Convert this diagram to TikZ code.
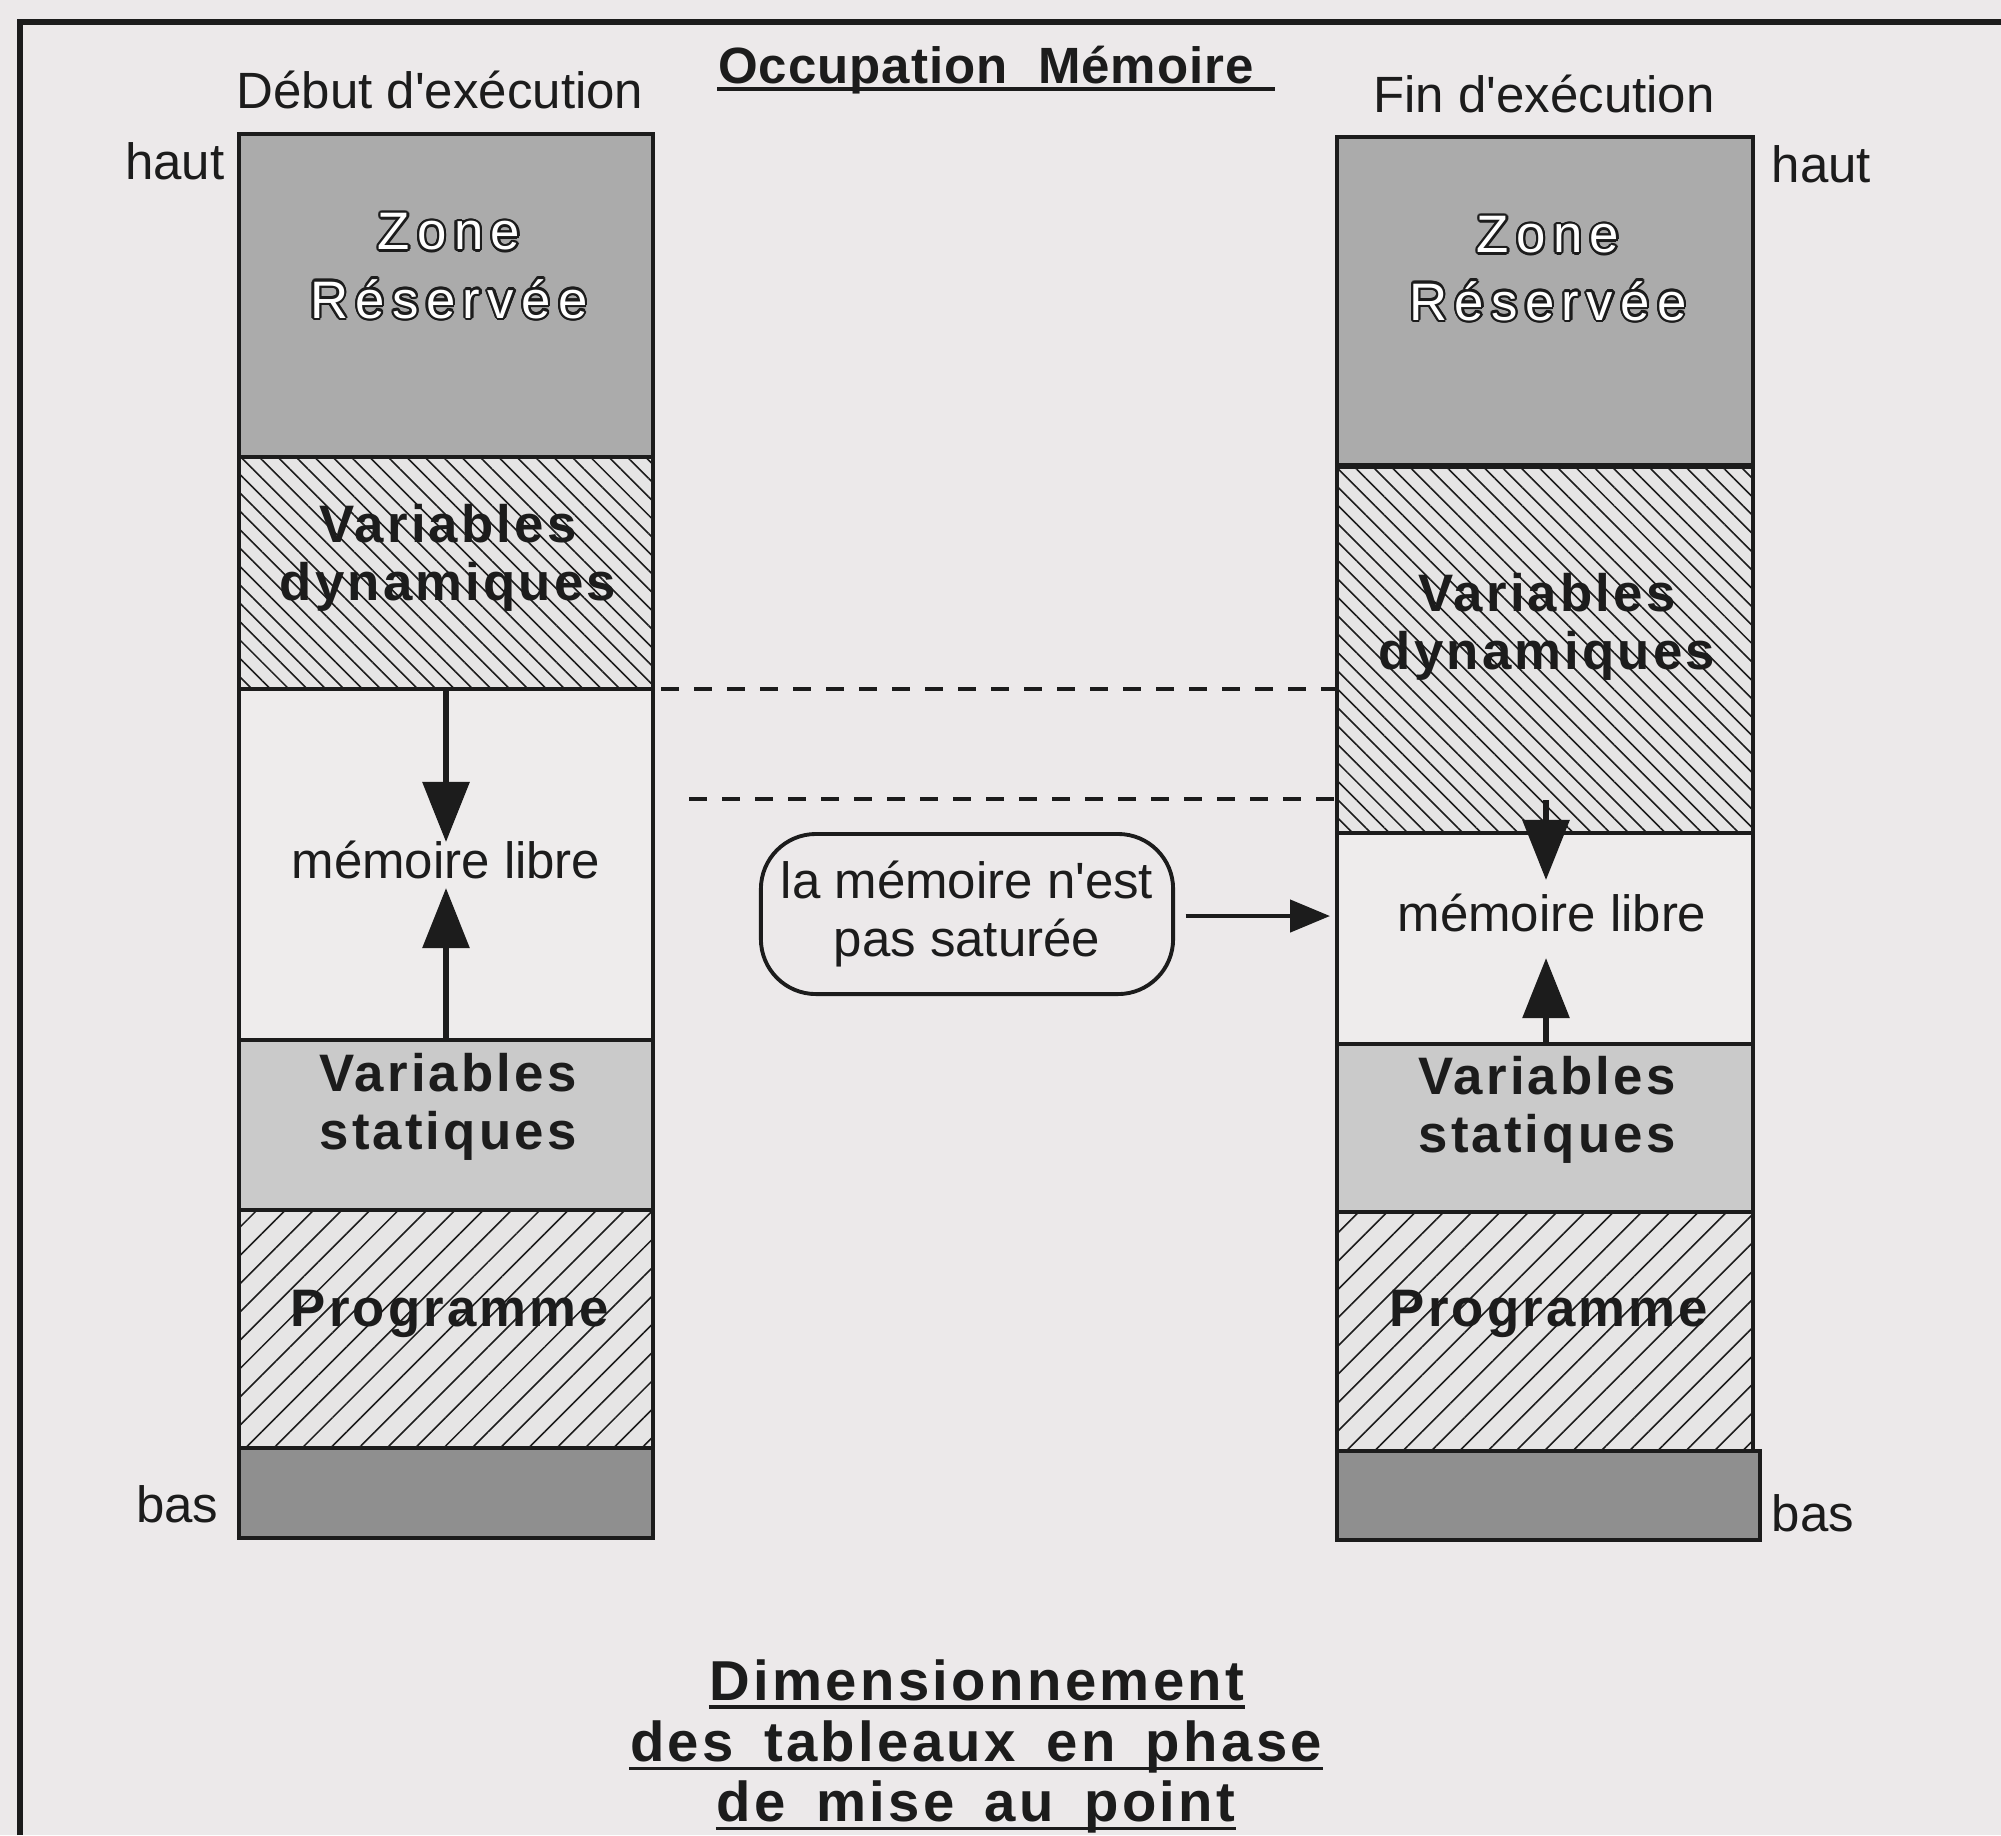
\documentclass[tikz,border=0pt]{standalone}
\usepackage{fontspec}
\setmainfont{Liberation Sans}
\newfontfamily\blockfont[LetterSpace=6]{Liberation Sans}
\newfontfamily\hollowfont[LetterSpace=14]{Liberation Sans}
\newfontfamily\headfont[LetterSpace=6,WordSpace=1.6]{Liberation Sans}
\newfontfamily\occfont[LetterSpace=2,WordSpace=2]{Liberation Sans}
\usepackage{contour}
\contourlength{0.65pt}
\usetikzlibrary{arrows.meta,patterns.meta}
% straight typewriter apostrophe, taken by glyph so that no TeX mapping curls it
\newcommand{\sq}{\XeTeXglyph\XeTeXglyphindex "quotesingle"\relax}

\definecolor{paper}{HTML}{ECE9EA}
\definecolor{ink}{HTML}{1C1C1C}
\definecolor{reservedfill}{HTML}{ABABAB}
\definecolor{staticfill}{HTML}{CACACA}
\definecolor{basefill}{HTML}{8F8F8F}
\definecolor{hatchbg}{HTML}{E6E5E5}
\definecolor{freefill}{HTML}{EEECEC}

\begin{document}
\begin{tikzpicture}[x=0.01cm,y=-0.01cm,
  frame/.style={draw=ink,line width=1.7pt},
  block/.style={draw=ink,line width=1.1pt},
  thickrule/.style={draw=ink,line width=1.8pt},
  dynhatch/.style={fill=hatchbg,postaction={pattern={Lines[angle=-45,distance=0.13cm,line width=0.45pt]},pattern color=ink}},
  proghatch/.style={fill=hatchbg,postaction={pattern={Lines[angle=45,distance=0.2cm,line width=0.45pt]},pattern color=ink}},
  label/.style={font=\fontsize{14.5}{17}\selectfont,text=ink,inner sep=0pt},
  blocklabel/.style={font=\blockfont\bfseries\fontsize{15}{16.5}\selectfont,align=center,text=ink,inner sep=0pt},
  hollow/.style={font=\hollowfont\fontsize{15}{16}\selectfont,text=white,inner sep=0pt},
  heading/.style={font=\headfont\bfseries\fontsize{16}{19}\selectfont,text=ink,inner sep=0pt,anchor=base},
  rule/.style={draw=ink,line width=0.9pt},
  growarrow/.style={draw=ink,line width=1.7pt,-{Triangle[width=0.46cm,length=0.6cm]}},
  pointer/.style={draw=ink,line width=1.3pt,-{Triangle[width=0.32cm,length=0.4cm]}},
  guide/.style={draw=ink,line width=0.9pt,dash pattern=on 0.18cm off 0.15cm},
  note/.style={draw=ink,line width=1.1pt,rounded corners=0.55cm,minimum width=4.12cm,minimum height=1.6cm,align=center,font=\fontsize{14.5}{16.5}\selectfont,text=ink,inner sep=0pt}
]
% page
\fill[paper] (0,0) rectangle (2001,1835);
\useasboundingbox (0,0) rectangle (2001,1835);

% frame (top and left edges)
\coordinate (frameBL) at (20,1835);
\coordinate (frameTL) at (20,22);
\coordinate (frameTR) at (2001,22);
\draw[frame] (frameBL) -- (frameTL) -- (frameTR);

% ---------- memory at start of execution ----------
\fill[reservedfill] (239,134) rectangle (653,457);
\path[dynhatch] (239,457) rectangle (653,689);
\fill[freefill] (239,689) rectangle (653,1040);
\fill[staticfill] (239,1040) rectangle (653,1210);
\path[proghatch] (239,1210) rectangle (653,1448);
\fill[basefill] (239,1448) rectangle (653,1538);
\draw[block] (239,134) rectangle (653,1538);
\foreach \y in {457,689,1040,1210,1448} \draw[block] (239,\y) -- (653,\y);

% ---------- memory at end of execution ----------
\fill[reservedfill] (1337,137) rectangle (1753,466);
\path[dynhatch] (1337,466) rectangle (1753,833);
\fill[freefill] (1337,833) rectangle (1753,1044);
\fill[staticfill] (1337,1044) rectangle (1753,1212);
\path[proghatch] (1337,1212) rectangle (1753,1451);
\fill[basefill] (1337,1451) rectangle (1760,1540);
\draw[block] (1337,137) rectangle (1753,1451);
\draw[block] (1337,1451) rectangle (1760,1540);
\draw[thickrule] (1337,466) -- (1753,466);
\foreach \y in {833,1044,1212} \draw[block] (1337,\y) -- (1753,\y);

% ---------- headings ----------
\node[heading,font=\occfont\bfseries\fontsize{14.5}{18}\selectfont] (occ) at (986,83) {Occupation Mémoire};
\draw[rule] ([yshift=-1.7pt]occ.base west) -- ++(558,0);

\node[heading] (dim1) at (977,1700) {Dimensionnement};
\node[heading] (dim2) at (976,1761) {des tableaux en phase};
\node[heading] (dim3) at (976,1821) {de mise au point};
\foreach \n in {dim1,dim2,dim3}
  \draw[rule] ([yshift=-2pt]\n.base west) -- ([yshift=-2pt]\n.base east);

% ---------- plain labels ----------
\node[label,anchor=base] (start) at (440,108) {Début d\sq exécution};
\node[label,anchor=base] (finish) at (1544,112) {Fin d\sq exécution};
\node[label,anchor=base east] (hautL) at (225,179) {haut};
\node[label,anchor=base east] (basL) at (219,1522) {bas};
\node[label,anchor=base west] (hautR) at (1771,182) {haut};
\node[label,anchor=base west] (basR) at (1771,1531) {bas};
\node[label,anchor=base] (freeL) at (446,878) {mémoire libre};
\node[label,anchor=base] (freeR) at (1552,931) {mémoire libre};

% ---------- block names ----------
\node[hollow] (zoneL) at (449,233) {\contour{ink}{Zone}};
\node[hollow] (resL) at (449,300) {\contour{ink}{Réservée}};
\node[hollow] (zoneR) at (1548,236) {\contour{ink}{Zone}};
\node[hollow] (resR) at (1548,302) {\contour{ink}{Réservée}};

\node[blocklabel] (dynLtxt) at (448,558) {Variables\\dynamiques};
\node[blocklabel] (dynRtxt) at (1547,627) {Variables\\dynamiques};
\node[blocklabel] (statLtxt) at (448,1107) {Variables\\statiques};
\node[blocklabel] (statRtxt) at (1547,1110) {Variables\\statiques};
\node[blocklabel] (progL) at (450,1314) {Programme};
\node[blocklabel] (progR) at (1549,1314) {Programme};

% ---------- growth arrows ----------
\coordinate (dynL) at (446,689);
\coordinate (dynLtip) at (446,842);
\coordinate (statL) at (446,1040);
\coordinate (statLtip) at (446,888);
\draw[growarrow] (dynL) -- (dynLtip);
\draw[growarrow] (statL) -- (statLtip);

\coordinate (dynR) at (1546,800);
\coordinate (dynRtip) at (1546,880);
\coordinate (statR) at (1546,1044);
\coordinate (statRtip) at (1546,958);
\draw[growarrow] (dynR) -- (dynRtip);
\draw[growarrow] (statR) -- (statRtip);

% ---------- guide lines ----------
\coordinate (g1a) at (661,689);
\coordinate (g1b) at (1337,689);
\coordinate (g2a) at (689,799);
\coordinate (g2b) at (1337,799);
\draw[guide] (g1a) -- (g1b);
\draw[guide] (g2a) -- (g2b);

% ---------- note ----------
\node[note] (note) at (967,914) {la mémoire n\sq est\\pas saturée};
\coordinate (noteTip) at (1330,916);
\draw[pointer,shorten <=3pt] (note.east |- noteTip) -- (noteTip);
\end{tikzpicture}
\end{document}
